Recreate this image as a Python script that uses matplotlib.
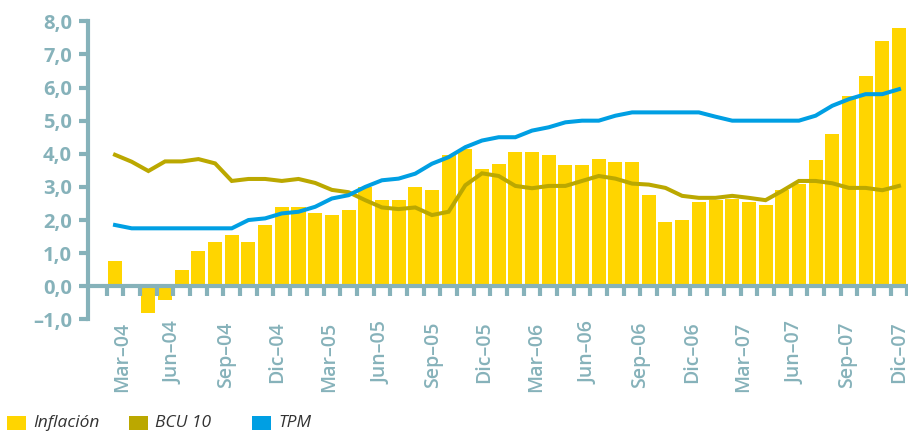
import numpy as np
import matplotlib
matplotlib.use("Agg")
import matplotlib.pyplot as plt
from matplotlib.patches import Rectangle

# ---------------- data ----------------
inflacion = [0.75, 0.0, -0.8, -0.4, 0.5, 1.05, 1.35, 1.55, 1.35, 1.85,
             2.4, 2.4, 2.2, 2.15, 2.3, 3.0, 2.6, 2.6, 3.0, 2.9,
             3.95, 4.15, 3.55, 3.7, 4.05, 4.05, 3.95, 3.65, 3.65, 3.85,
             3.75, 3.75, 2.75, 1.95, 2.0, 2.55, 2.6, 2.65, 2.55, 2.45,
             2.9, 3.1, 3.8, 4.6, 5.75, 6.35, 7.4, 7.8]
bcu10 = [3.97, 3.76, 3.48, 3.77, 3.77, 3.84, 3.71, 3.18, 3.24, 3.24,
         3.18, 3.24, 3.12, 2.91, 2.84, 2.6, 2.38, 2.33, 2.38, 2.15,
         2.25, 3.05, 3.41, 3.33, 3.03, 2.96, 3.03, 3.03, 3.18, 3.33,
         3.25, 3.1, 3.07, 2.97, 2.73, 2.67, 2.67, 2.73, 2.67, 2.6,
         2.88, 3.18, 3.18, 3.11, 2.97, 2.97, 2.9, 3.03]
tpm = [1.85, 1.75, 1.75, 1.75, 1.75, 1.75, 1.75, 1.75, 2.0, 2.05,
       2.2, 2.25, 2.4, 2.65, 2.75, 3.0, 3.2, 3.25, 3.4, 3.7,
       3.9, 4.2, 4.4, 4.5, 4.5, 4.7, 4.8, 4.95, 5.0, 5.0,
       5.15, 5.25, 5.25, 5.25, 5.25, 5.25, 5.12, 5.0, 5.0, 5.0,
       5.0, 5.0, 5.15, 5.45, 5.65, 5.8, 5.8, 5.95]
tick_labels = ["Mar–04", "Jun–04", "Sep–04", "Dic–04", "Mar–05", "Jun–05",
               "Sep–05", "Dic–05", "Mar–06", "Jun–06", "Sep–06", "Dic–06",
               "Mar–07", "Jun–07", "Sep–07", "Dic–07"]
y_ticks = [-1, 0, 1, 2, 3, 4, 5, 6, 7, 8]
y_tick_labels = ["–1,0", "0,0", "1,0", "2,0", "3,0", "4,0", "5,0", "6,0", "7,0", "8,0"]
legend_labels = ["Inflación", "BCU 10", "TPM"]

# ---------------- style ----------------
C_BAR = "#FFD500"
C_BCU = "#BBA800"
C_TPM = "#009FE3"
C_AXIS = "#86B2BA"
C_XLAB = "#86B2BA"

fig = plt.figure(figsize=(9.08, 4.33), dpi=100)
ax = fig.add_axes([88 / 908, 1 - 319.4 / 433, 820 / 908, 298.1 / 433])

x = np.arange(len(inflacion))
ax.bar(x, inflacion, width=0.84, color=C_BAR, zorder=1)
ax.plot(x, bcu10, color=C_BCU, lw=2.9, zorder=3, solid_joinstyle="miter")
ax.plot(x, tpm, color=C_TPM, lw=2.9, zorder=4, solid_joinstyle="miter")

ax.set_xlim(-1.62, 47.54)
ax.set_ylim(-1, 8)

for s in ["top", "right"]:
    ax.spines[s].set_visible(False)
ax.spines["left"].set_color(C_AXIS)
ax.spines["left"].set_linewidth(3)
ax.spines["bottom"].set_position(("data", 0))
ax.spines["bottom"].set_color(C_AXIS)
ax.spines["bottom"].set_linewidth(3)
ax.spines["bottom"].set_zorder(2.5)

ax.set_yticks(y_ticks)
ax.set_yticklabels(y_tick_labels, fontfamily="Open Sans", fontweight="bold",
                   fontsize=14.5, color=C_AXIS)
ax.tick_params(axis="y", length=6.5, width=3, color=C_AXIS, pad=5)

ax.set_xticks(np.arange(len(inflacion) + 1) - 0.5)
ax.tick_params(axis="x", length=7, width=3, color=C_AXIS, labelbottom=False,
               direction="out")

label_pos = np.linspace(0.42, 47.0, len(tick_labels))
for p, t in zip(label_pos, tick_labels):
    ax.text(p, -1.06, t, rotation=90, ha="center", va="top",
            fontfamily="Open Sans", fontweight="semibold", fontsize=14,
            color=C_XLAB, clip_on=False)

# ---------------- legend ----------------
leg_colors = [C_BAR, C_BCU, C_TPM]
leg_x = [7, 129, 252]
for lx, c, lab in zip(leg_x, leg_colors, legend_labels):
    fig.add_artist(Rectangle((lx / 908, 1 - 430 / 433), 19 / 908, 14.5 / 433,
                             transform=fig.transFigure, color=c, lw=0))
    fig.text((lx + 26) / 908, 1 - 423 / 433, lab, ha="left", va="center",
             fontfamily="Open Sans", fontstyle="italic", fontsize=12.5,
             color="#333333")

fig.savefig("out.png", dpi=100)
